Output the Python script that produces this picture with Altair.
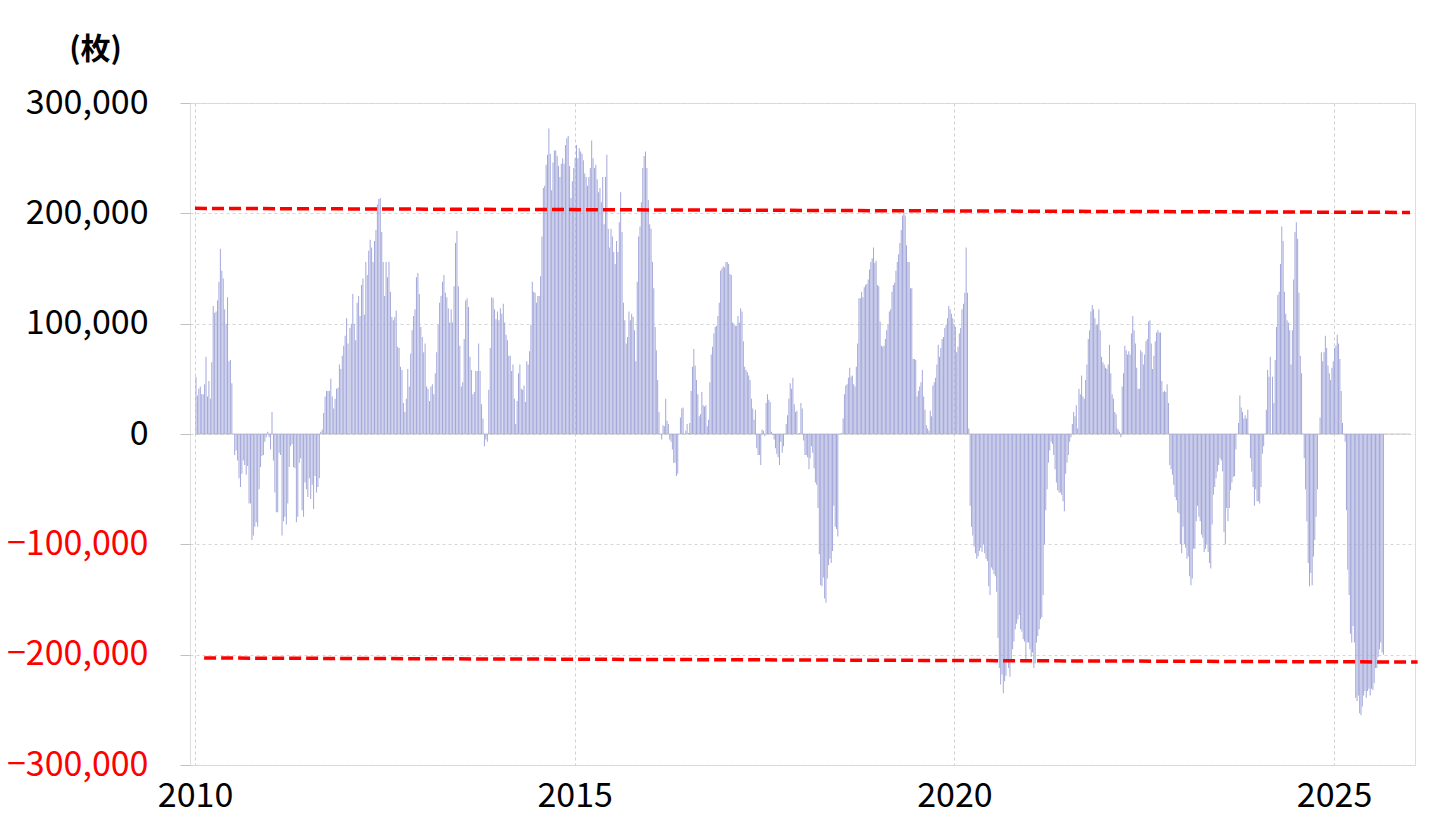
import altair as alt
import pandas as pd

# Segment time spans (fractional years) for weekly readings
seg_start = [2010.013, 2012.04, 2014.06, 2016.075, 2018.10, 2020.12, 2022.14, 2024.19]
seg_end = [2012.015, 2014.04, 2016.06, 2018.085, 2020.10, 2022.13, 2024.16, 2025.65]

# Weekly net position values (thousands of contracts)
seg1 = [52, 35, 41, 43, 36, 36, 45, 70, 34, 48, 32, 65, 116, 110, 111, 121, 138, 168, 148, 141,
        113, 100, 124, 66, 67, 46, 0, -19, -15, -24, -40, -48, -36, -24, -28, -37, -29, -63, -63, -96,
        -92, -84, -80, -84, -50, -30, -20, -19, -7, -3, 2, -3, -14, 20, -24, -53, -71, -71, -17, -19,
        -92, -79, -75, -82, -63, -30, -11, -9, -30, -31, -80, -75, -26, -22, -69, -75, -44, -50, -57, -40,
        -59, -46, -68, -38, -53, -48, -40, 2, 4, 19, 34, 39, 39, 39, 50, 34, 23, 32, 41, 42,
        63, 59, 71, 80, 89, 105, 82]
seg2 = [96, 100, 127, 100, 85, 119, 125, 107, 135, 141, 108, 156, 144, 166, 176, 169, 156, 175, 185, 208,
        213, 214, 183, 156, 125, 156, 142, 156, 129, 106, 103, 106, 112, 79, 78, 61, 58, 28, 20, 32,
        59, 43, 73, 94, 107, 113, 142, 146, 127, 97, 88, 74, 82, 43, 41, 30, 43, 45, 36, 55,
        74, 99, 119, 125, 138, 144, 128, 124, 114, 101, 113, 101, 134, 173, 184, 134, 80, 43, 47, 86,
        121, 123, 115, 70, 58, 36, 38, 57, 57, 82, 57, 27, 14, -11, -5, -7, 40, 78, 124, 123,
        113, 104, 111, 103, 114, 109]
seg3 = [118, 101, 90, 85, 71, 71, 57, 63, 32, 9, 30, 55, 63, 41, 40, 44, 29, 66, 63, 75,
        99, 138, 129, 128, 119, 125, 125, 143, 179, 223, 225, 244, 253, 277, 254, 221, 246, 257, 257, 252,
        243, 233, 245, 250, 245, 262, 268, 270, 243, 214, 229, 241, 250, 262, 250, 259, 256, 254, 248, 236,
        233, 225, 233, 241, 266, 250, 241, 244, 231, 219, 223, 210, 233, 190, 233, 253, 186, 169, 186, 179,
        165, 154, 175, 165, 192, 219, 183, 119, 103, 82, 88, 111, 103, 109, 106, 94, 66, 138, 179, 188,
        210, 241, 252, 256, 241, 212, 190, 186, 156, 132, 97]
seg4 = [76, 49, 20, 0, -5, 8, 7, 32, 12, 9, -5, -7, -14, -26, -26, -38, -36, 0, 15, 23,
        24, 0, 3, 9, 1, 10, 39, 61, 77, 62, 49, 36, 16, 18, 38, 26, 25, 26, 7, 13,
        47, 72, 79, 91, 97, 98, 107, 119, 148, 150, 152, 151, 156, 156, 154, 145, 144, 101, 100, 98,
        98, 107, 101, 114, 111, 84, 61, 58, 56, 53, 49, 32, 23, 13, 22, -13, -19, -19, -28, 4,
        3, -2, 28, 36, 31, 29, 2, -1, -5, -13, -18, -21, -28, -7, -17, -11, 0, 9, 17, 32,
        46, 41, 51, 27, 20, 21, 0, 1, 28, 23, -6, -19, -19, -21, -32]
seg5 = [-22, -11, -17, -31, -44, -46, -67, -109, -137, -138, -130, -149, -153, -131, -119, -113, -117, -106, -65, -84,
        -86, -93, 0, 0, 1, 14, 36, 44, 45, 51, 60, 52, 53, 45, 43, 61, 82, 123, 123, 129,
        124, 133, 135, 136, 140, 149, 156, 159, 169, 155, 157, 135, 134, 102, 80, 79, 80, 86, 94, 99,
        111, 113, 129, 135, 137, 148, 156, 163, 173, 185, 198, 203, 198, 171, 156, 156, 132, 132, 68, 68,
        67, 34, 39, 43, 47, 58, 34, 22, 8, 5, 3, 21, 16, 44, 47, 51, 63, 81, 70, 78,
        86, 88, 96, 99, 105, 116, 113, 109, 105, 99, 97, 74, 79, 91, 96, 113]
seg6 = [118, 128, 169, 128, 5, -65, -84, -92, -102, -108, -113, -111, -106, -103, -107, -100, -108, -113, -115, -138,
        -146, -121, -123, -127, -129, -143, -185, -212, -227, -218, -235, -224, -219, -204, -212, -220, -204, -195, -188, -177,
        -172, -168, -164, -177, -179, -186, -188, -204, -189, -189, -195, -202, -198, -212, -208, -189, -183, -177, -168, -166,
        -146, -100, -69, -50, -26, -15, -7, -9, -19, -32, -44, -51, -53, -53, -55, -61, -70, -36, -26, -19,
        -7, -3, 9, 20, 16, 26, 5, 41, 36, 53, 34, 32, 49, 63, 86, 94, 111, 117, 113, 105,
        99, 99, 113, 94, 70, 65, 63, 60, 59, 63, 81, 55, 36, 32, 20, 18]
seg7 = [5, 4, 2, -3, 43, 55, 80, 76, 72, 75, 72, 91, 107, 94, 82, 60, 41, 41, 76, 74,
        63, 72, 84, 86, 102, 103, 82, 59, 71, 84, 92, 94, 92, 92, 48, 38, 39, 38, 45, 28,
        -28, -32, -37, -46, -57, -60, -71, -72, -100, -108, -84, -100, -103, -113, -111, -129, -137, -131, -104, -104,
        -79, -65, -75, -79, -91, -94, -107, -104, -100, -107, -117, -122, -82, -55, -48, -40, -34, -28, -22, -24,
        -34, -89, -100, -67, -79, -67, -51, -44, -39, -38, -14, 0, 10, 35, 24, 20, 14, 17, 14, 22,
        0, -22, -34, -48, -65, -50, -61, -61, -63, -48, -18, -11, 0, 22, 58, 52, 70]
seg8 = [52, 28, 67, 97, 126, 129, 154, 188, 175, 129, 109, 103, 101, 94, 63, 94, 140, 183, 192, 177,
        128, 71, 55, 0, -22, -50, -79, -117, -138, -126, -137, -111, -96, -75, -50, 0, 15, 74, 66, 74,
        89, 78, 62, 55, 49, 60, 66, 78, 80, 90, 82, 68, 39, 10, 0, -7, -69, -123, -146, -181,
        -189, -174, -189, -239, -242, -237, -253, -255, -247, -237, -233, -239, -233, -231, -237, -231, -232, -226, -212, -212,
        -202, -195, -189, -198, -200]
segments = [seg1, seg2, seg3, seg4, seg5, seg6, seg7, seg8]

# Red dashed reference lines
line_t = [2010.0, 2026.0, 2010.12, 2026.1]
line_v = [204500, 200800, -203000, -206700]
line_grp = ["upper", "upper", "lower", "lower"]

x_ticks = [2010, 2015, 2020, 2025]
y_ticks = [-300000, -200000, -100000, 0, 100000, 200000, 300000]

rows = []
for s, e, vals in zip(seg_start, seg_end, segments):
    n = len(vals)
    for i, v in enumerate(vals):
        rows.append({"t": s + (e - s) * i / (n - 1), "v": v * 1000})
df = pd.DataFrame(rows)
df_lines = pd.DataFrame({"t": line_t, "v": line_v, "grp": line_grp})

FONT = "Noto Sans CJK JP"

x_enc = alt.X(
    "t:Q",
    scale=alt.Scale(domain=[2010, 2026], nice=False, zero=False),
    axis=alt.Axis(values=x_ticks, format="d", title=None, ticks=False, domain=False,
                  grid=True, gridDash=[3, 3], gridColor="#cfcfcf",
                  labelFontSize=34, labelFont=FONT, labelColor="#000000",
                  labelPadding=14, labelFlush=False),
)
y_enc = alt.Y(
    "v:Q",
    scale=alt.Scale(domain=[-300000, 300000], nice=False),
    axis=alt.Axis(values=y_ticks, format=",.0f", title="(枚)", titleAngle=0,
                  titleX=-95, titleY=-54, titleAlign="center", titleBaseline="middle",
                  titleFontSize=30, titleFontWeight="bold", titleFont=FONT, titleColor="#000000",
                  labelFontSize=34, labelFont=FONT,
                  labelColor={"condition": {"test": "datum.value < 0", "value": "#ff0000"},
                              "value": "#000000"},
                  tickSize=10, tickColor="#c0c0c0", domain=False,
                  grid=True, gridDash=[3, 3], gridColor="#d6d6d6", labelPadding=32),
)

bars = alt.Chart(df).mark_bar(size=1, color="#a3a8da").encode(x=x_enc, y=y_enc)

zero = alt.Chart(pd.DataFrame({"t": [2010.0, 2026.0], "v": [0, 0]})).mark_line(
    color="#c6c6c6", strokeWidth=1
).encode(x=x_enc, y=y_enc)

lines = alt.Chart(df_lines).mark_line(
    color="#ff0000", strokeDash=[12, 5], strokeWidth=3.5, clip=False
).encode(x=x_enc, y=y_enc, detail="grp:N")

chart = alt.layer(zero, bars, lines).properties(
    width=1225, height=662,
    autosize=alt.AutoSizeParams(type="none"),
    padding={"left": 182, "top": 95, "right": 33, "bottom": 60},
).configure_view(stroke="#c0c0c0", strokeWidth=2.5).configure(background="white")

chart.save("out.html", embed_options={"renderer": "svg", "actions": False})
